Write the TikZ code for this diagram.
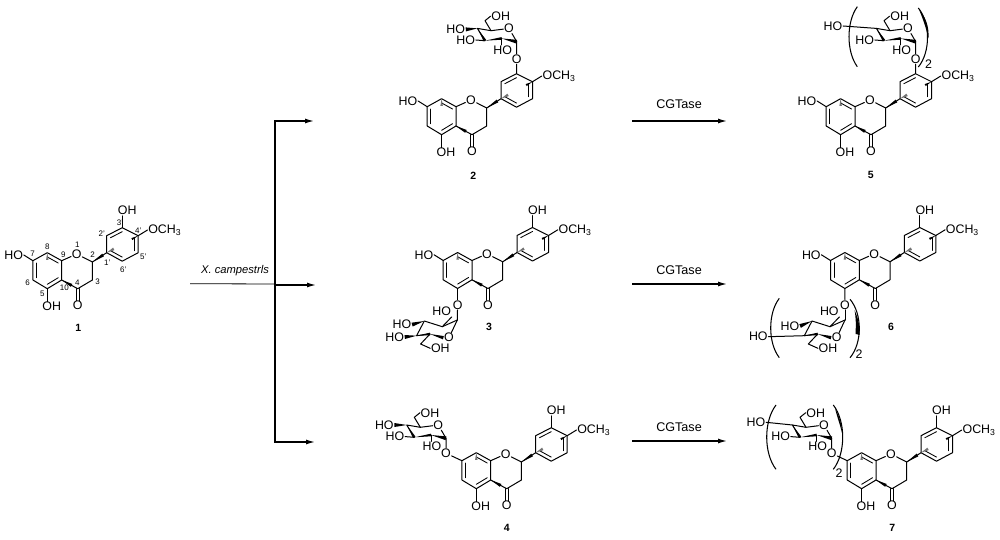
\documentclass[tikz,border=0pt]{standalone}
\usepackage{fontspec}
\setmainfont{Liberation Sans}
\usetikzlibrary{calc,arrows.meta}
\tikzset{
  bond/.style={line width=1pt,line cap=round,line join=round},
  atom/.style={inner sep=0.6pt,font=\fontsize{12.4}{13}\selectfont},
  num/.style={inner sep=0pt,font=\fontsize{8}{9}\selectfont},
  cpd/.style={inner sep=0pt,font=\fontsize{10.5}{11}\selectfont\bfseries},
  cond/.style={inner sep=0pt,font=\fontsize{12.6}{13}\selectfont},
  flow/.style={line width=1.3pt,line join=miter},
  head/.style={-{Latex[length=9pt,width=5pt]}},
  ghost/.style={fill=black!55,draw=none},
}
% filled wedge: from #1 (point) to #2 (half width #3)
\newcommand\wdg[3]{\fill (#1) -- ($(#2)!#3!90:(#1)$) -- ($(#2)!#3!-90:(#1)$) -- cycle;}
\newcommand\gwdg[3]{\path[ghost] (#1) -- ($(#2)!#3!90:(#1)$) -- ($(#2)!#3!-90:(#1)$) -- cycle;}
% inner line of a ring double bond
\newcommand\inn[3]{\draw[bond,line width=0.85pt] ($(#1)!.24!(#3)$) -- ($(#2)!.24!(#3)$);}
% flavanone core; #1 prefix, #2,#3 position of C8a
\newcommand\core[3]{%
\begin{scope}[shift={(#2,#3)}]
  \coordinate (#1c7) at (-28.8,0);
  \coordinate (#1c8) at (-14.4,-8);
  \coordinate (#1c9) at (0,0);
  \coordinate (#1c2) at (30.7,1.3);
  \coordinate (#1c3) at (30.7,19.3);
  \coordinate (#1c4) at (16,28);
  \coordinate (#1c10) at (0,19.3);
  \coordinate (#1c5) at (-14.4,28);
  \coordinate (#1c6) at (-28.8,19.3);
  \coordinate (#1ca) at (-14.4,9.7);
  \coordinate (#1a1) at (45,-8);
  \coordinate (#1a2) at (45,-25);
  \coordinate (#1a3) at (60.5,-33);
  \coordinate (#1a4) at (76.5,-25);
  \coordinate (#1a5) at (76.5,-8);
  \coordinate (#1a6) at (60.5,0.5);
  \coordinate (#1cb) at (60.7,-16.5);
  \coordinate (#1w1) at ($(#1c10)!.62!(#1c4)$);
  \coordinate (#1w2) at ($(#1c2)!.75!(#1a1)$);
  \coordinate (#1w3) at ($(#1a4)!.4!(#1cb)$);
  \coordinate (#1w4) at ($(#1a1)!.45!(#1cb)$);
  \coordinate (#1w5) at ($(#1c8)!.4!(#1ca)$);
  \node[atom] (#1o) at (15,-6.7) {O};
  \node[atom] (#1oc) at (16,45) {O};
  \node[atom,anchor=west] (#1me) at (85.8,-30.7) {OCH\textsubscript{3}};
\end{scope}
\draw[bond] (#1c7)--(#1c8)--(#1c9)--(#1c10)--(#1c5)--(#1c6)--cycle;
\draw[bond] (#1c9)--(#1o)--(#1c2)--(#1c3)--(#1c4)--(#1c10);
\draw[bond] (#1c2)--(#1a1);
\draw[bond] (#1a1)--(#1a2)--(#1a3)--(#1a4)--(#1a5)--(#1a6)--cycle;
\draw[bond] (#1a4)--(#1me.west);
\draw[bond,transform canvas={xshift=-1.5pt}] (#1c4)--(#1c4 |- #1oc.north);
\draw[bond,transform canvas={xshift=1.5pt}] (#1c4)--(#1c4 |- #1oc.north);
\inn{#1c8}{#1c9}{#1ca}\inn{#1c7}{#1c6}{#1ca}\inn{#1c5}{#1c10}{#1ca}
\inn{#1a2}{#1a3}{#1cb}\inn{#1a4}{#1a5}{#1cb}\inn{#1a6}{#1a1}{#1cb}
\wdg{#1c10}{#1w1}{1.6pt}
\wdg{#1c2}{#1w2}{1.6pt}
\wdg{#1a4}{#1w3}{1.1pt}
\gwdg{#1a1}{#1w4}{1.4pt}
\gwdg{#1c8}{#1w5}{1.2pt}
}
% OH on C5, HO on C7, OH on C3'
\newcommand\fiveOH[3]{\begin{scope}[shift={(#2,#3)}]\node[atom] (#1oh5) at (-10,46) {OH};\end{scope}
\draw[bond] (#1c5)--(#1c5 |- #1oh5.north);}
\newcommand\sevenOH[3]{\begin{scope}[shift={(#2,#3)}]\node[atom] (#1oh7) at (-48,-5.7) {HO};\end{scope}
\draw[bond] (#1c7)--(#1oh7.east);}
\newcommand\threeOH[3]{\begin{scope}[shift={(#2,#3)}]\node[atom] (#1oh3) at (65.5,-50) {OH};\end{scope}
\draw[bond] (#1a3)--(#1a3 |- #1oh3.south);}
% beta-glucosyl, chair pointing right; #1 prefix, #2,#3 anomeric C
\newcommand\sugarA[3]{%
\begin{scope}[shift={(#2,#3)}]
  \coordinate (#1s1) at (0,0);
  \coordinate (#1s2) at (-15,-3.3);
  \coordinate (#1s3) at (-31.7,-1);
  \coordinate (#1s4) at (-39.3,-13.3);
  \coordinate (#1s5) at (-25.7,-11);
  \coordinate (#1s6) at (-31.7,-21);
  \node[atom] (#1so) at (-7.7,-13.3) {O};
  \node[atom] (#1oh6) at (-16,-25.5) {OH};
  \node[atom] (#1oh3s) at (-51,-1.7) {HO};
  \node[atom] (#1oh2s) at (-14,8.3) {HO};
\end{scope}
\draw[bond] (#1s1)--(#1so)--(#1s5)--(#1s4)--(#1s3);
\draw[bond] (#1s5)--(#1s6)--(#1oh6.west);
\draw[bond] (#1s3)--(#1oh3s.east);
\draw[bond] (#1s2)--(#1s2 |- #1oh2s.north);
\wdg{#1s3}{#1s2}{1.3pt}
\wdg{#1s2}{#1s1}{1.9pt}
\wdg{#1s4}{#1s3}{1.4pt}
}
% chair pointing left-down (compounds 3 and 6)
\newcommand\sugarB[3]{%
\begin{scope}[shift={(#2,#3)}]
  \coordinate (#1s1) at (0,0);
  \coordinate (#1s2) at (-15,6.7);
  \coordinate (#1s3) at (-33,1);
  \coordinate (#1s4) at (-40.7,15.7);
  \coordinate (#1s5) at (-27.3,14);
  \coordinate (#1s6) at (-36.7,24);
  \node[atom] (#1so) at (-8.3,17.7) {O};
  \node[atom] (#1oh6) at (-17,28.3) {OH};
  \node[atom] (#1oh2s) at (-15.7,-8.3) {HO};
\end{scope}
\draw[bond] (#1s1)--(#1so);
\draw[bond] (#1s1)--(#1s2)--(#1s3)--(#1s4);
\draw[bond] (#1s5)--(#1s6)--(#1oh6.west);
\draw[bond] (#1s2)--(#1oh2s.south east);
\wdg{#1s4}{#1s5}{1.3pt}
\wdg{#1s5}{#1so.west}{1.7pt}
\draw[bond] (#1s4)--(#1s5);
}
\newcommand\parenL[4]{\draw[line width=1.05pt] (#1,#3) .. controls ({#2-(#1-#2)/3},{#3+(#4-#3)/4}) and ({#2-(#1-#2)/3},{#4-(#4-#3)/4}) .. (#1,#4);}
\newcommand\parenR[4]{\draw[line width=1.05pt] (#1,#3) .. controls ({#2+(#2-#1)/3},{#3+(#4-#3)/4}) and ({#2+(#2-#1)/3},{#4-(#4-#3)/4}) .. (#1,#4);}
\begin{document}
\begin{tikzpicture}[x=1pt,y=-1pt]
\useasboundingbox (0,0) rectangle (1000,540);
\fill[white] (0,0) rectangle (1000,540);

% ---------- compound 1
\core{a}{61.7}{260.7}
\fiveOH{a}{61.7}{260.7}\sevenOH{a}{61.7}{260.7}\threeOH{a}{61.7}{260.7}
\node[cpd] (n1) at (78.3,327.7) {1};
\foreach \nm/\tx/\px/\py in {l1/1/77.3/244.3, l2/2/92.7/254.3, l3/3/97.7/281.7, l4/4/77.3/282.7, l10/10/64.3/287.3, l9/9/63.3/254.3, l8/8/47.3/246.7, l7/7/32.7/254, l6/6/27.7/282.7, l5/5/42.3/293.3, m1/1'/107.3/262.7, m2/2'/101.7/234, m3/3'/120/222.7, m4/4'/138.3/230.7, m5/5'/143.3/256.7, m6/6'/123.3/270}
  \node[num] (\nm) at (\px,\py) {\tx};

% ---------- compound 2
\core{b}{456}{106.7}
\fiveOH{b}{456}{106.7}\sevenOH{b}{456}{106.7}
\node[atom] (bog) at (516.7,59) {O};
\sugarA{bb}{516.7}{41.7}
\node[atom] (bbh4) at (455.7,29.4) {HO};
\wdg{bbs4}{bbh4.east}{2pt}
\draw[bond] (ba3)--(bog)--(bbs1);
\node[cpd] (n2) at (473.3,175.7) {2};

% ---------- compound 5
\core{e}{855}{106.7}
\fiveOH{e}{855}{106.7}\sevenOH{e}{855}{106.7}
\node[atom] (eog) at (915.7,59) {O};
\sugarA{ee}{915.7}{41.7}
\node[atom] (eeh4) at (833,26) {HO};
\draw[bond] (eeh4.east)--(ees4);
\draw[bond] (ea3)--(eog)--(ees1);
\parenL{857.3}{849}{6.7}{66.7}
\parenR{918.3}{927.5}{8}{67}
\fill (919,9.5) .. controls (926,18) and (929,26) .. (928.5,38) .. controls (926,28) and (923,19) .. (919,9.5) -- cycle;
\node[atom] (eidx) at (928.5,64) {2};
\node[cpd] (n5) at (870.7,175) {5};

% ---------- compound 3
\core{c}{472}{260.5}
\sevenOH{c}{472}{260.5}\threeOH{c}{472}{260.5}
\node[atom] (cog) at (457.6,304.8) {O};
\draw[bond] (cc5)--(cog);
\sugarB{cc}{457.3}{320}
\draw[bond] (cog)--(ccs1);
\node[atom] (cch3) at (402,324.6) {HO};
\node[atom] (cch4) at (394.6,337) {HO};
\wdg{ccs3}{cch3.east}{2pt}
\wdg{ccs4}{cch4.east}{2pt}
\node[cpd] (n3) at (489,327.3) {3};

% ---------- compound 6
\core{f}{859.3}{260.5}
\sevenOH{f}{859.3}{260.5}\threeOH{f}{859.3}{260.5}
\node[atom] (fog) at (845,304.8) {O};
\draw[bond] (fc5)--(fog);
\sugarB{ff}{845}{320}
\draw[bond] (fog)--(ffs1);
\node[atom] (ffh3) at (790,326) {HO};
\node[atom] (ffh4) at (758.3,336.7) {HO};
\wdg{ffs3}{ffh3.east}{2pt}
\draw[bond] (ffh4.east)--(ffs4);
\parenL{779.3}{770.7}{298.3}{357.7}
\parenR{850}{859.3}{299.3}{357.7}
\fill (854.5,310) .. controls (858,318) and (860,325) .. (859.5,335) .. controls (857,334) and (855.5,334) .. (855.5,334) .. controls (856,325) and (856,318) .. (854.5,310) -- cycle;
\node[atom] (fidx) at (859,354) {2};
\node[cpd] (n6) at (891,327.3) {6};

% ---------- compound 4
\core{d}{490.7}{460.7}
\fiveOH{d}{490.7}{460.7}\threeOH{d}{490.7}{460.7}
\node[atom] (dog) at (446,453.3) {O};
\sugarA{dd}{446}{438.3}
\node[atom] (ddh4) at (384.3,425) {HO};
\wdg{dds4}{ddh4.east}{2pt}
\draw[bond] (dds1)--(dog)--(dc7);
\node[cpd] (n4) at (506.7,528.3) {4};

% ---------- compound 7
\core{g}{876}{460.7}
\fiveOH{g}{876}{460.7}\threeOH{g}{876}{460.7}
\node[atom] (gog) at (831.7,453.3) {O};
\sugarA{gg}{831.7}{438.3}
\node[atom] (ggh4) at (756,422.3) {HO};
\draw[bond] (ggh4.east)--(ggs4);
\draw[bond] (ggs1)--(gog)--(gc7);
\parenL{776}{766.7}{405}{469.3}
\parenR{833.3}{842.7}{405}{469.3}
\fill (835,408) .. controls (839,416) and (842,424) .. (842.2,434) .. controls (840,424) and (837,417) .. (835,408) -- cycle;
\node[atom] (gidx) at (839,473) {2};
\node[cpd] (n7) at (892.3,528.3) {7};

% ---------- arrows
\coordinate (top) at (275,121);
\coordinate (mid) at (275,284);
\coordinate (bot) at (275,442);
\coordinate (topend) at (314,121);
\coordinate (midend) at (316,285);
\coordinate (botend) at (315,442);
\coordinate (start) at (190,283.7);
\draw[line width=0.8pt] (start)--(mid);
\draw[flow] (top)--(bot);
\draw[flow,head] ($(top)+(-.65,0)$)--(topend);
\draw[flow,head] (275,285)--(midend);
\draw[flow,head] ($(bot)+(-.65,0)$)--(botend);
\node[cond,font=\fontsize{11.2}{12}\selectfont\itshape] (xc) at (235,270.5) {X. campestrls};

\foreach \nm/\ya/\yb in {t/121/104,m/284/270,b/441/427}{
  \coordinate (\nm a) at (632,\ya);
  \coordinate (\nm b) at (727,\ya);
  \draw[flow,head] (\nm a)--(\nm b);
  \node[cond] (\nm l) at (679,\yb) {CGTase};
}
\end{tikzpicture}
\end{document}
